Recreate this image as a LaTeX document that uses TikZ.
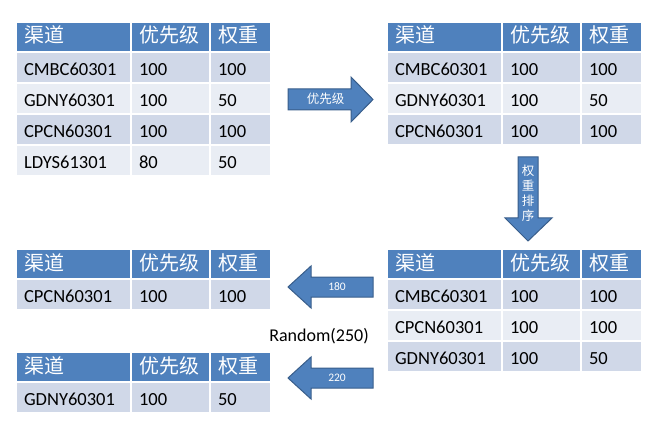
\documentclass[tikz,border=0pt]{standalone}
\usepackage{fontspec}
\setmainfont{Carlito}
\newfontfamily\cjk{Noto Sans CJK SC}
\definecolor{hdrblue}{HTML}{4F81BD}
\definecolor{rowdark}{HTML}{D0D8E8}
\definecolor{rowlight}{HTML}{E9EDF4}
\definecolor{arrowedge}{HTML}{385D8A}
% one table row: three cells placed side by side
% #1 name prefix, #2 cell style, #3 top-left corner, #4-#6 cell texts
\newcommand{\tabrow}[6]{%
  \node[#2, text width=99pt] (#1a) at #3 {#4};
  \node[#2, text width=63pt] (#1b) at (#1a.north east) {#5};
  \node[#2, text width=45pt] (#1c) at (#1b.north east) {#6};
}
\begin{document}
\begin{tikzpicture}[x=1pt,y=-1pt,
  cellbase/.style={rectangle, draw=white, line width=1.5pt, outer sep=0pt,
    inner xsep=8pt, inner ysep=0pt, align=left, anchor=north west},
  hdr/.style={cellbase, fill=hdrblue, text=white,
    font=\cjk\fontsize{20}{22}\selectfont,
    minimum height=30pt, text height=15pt, text depth=3pt},
  rowA/.style={cellbase, fill=rowdark, text=black,
    font=\fontsize{18.5}{20}\selectfont,
    minimum height=31pt, text height=16pt, text depth=0pt},
  rowB/.style={rowA, fill=rowlight},
  blockarrow/.style={fill=hdrblue, draw=arrowedge, line width=1pt, line join=miter},
  arrowtext/.style={text=white, inner sep=0pt},
]
\useasboundingbox (0,0) rectangle (671,430);

% source table
\tabrow{t1h}{hdr}{(16,22)}{渠道}{优先级}{权重}
\tabrow{t1r1}{rowA}{(t1ha.south west)}{CMBC60301}{100}{100}
\tabrow{t1r2}{rowB}{(t1r1a.south west)}{GDNY60301}{100}{50}
\tabrow{t1r3}{rowA}{(t1r2a.south west)}{CPCN60301}{100}{100}
\tabrow{t1r4}{rowB}{(t1r3a.south west)}{LDYS61301}{80}{50}

% after priority filter
\tabrow{t2h}{hdr}{(387,22)}{渠道}{优先级}{权重}
\tabrow{t2r1}{rowA}{(t2ha.south west)}{CMBC60301}{100}{100}
\tabrow{t2r2}{rowB}{(t2r1a.south west)}{GDNY60301}{100}{50}
\tabrow{t2r3}{rowA}{(t2r2a.south west)}{CPCN60301}{100}{100}

% after weight sort
\tabrow{t3h}{hdr}{(387,249)}{渠道}{优先级}{权重}
\tabrow{t3r1}{rowA}{(t3ha.south west)}{CMBC60301}{100}{100}
\tabrow{t3r2}{rowB}{(t3r1a.south west)}{CPCN60301}{100}{100}
\tabrow{t3r3}{rowA}{(t3r2a.south west)}{GDNY60301}{100}{50}

% picked results
\tabrow{t4h}{hdr}{(16,249)}{渠道}{优先级}{权重}
\tabrow{t4r1}{rowA}{(t4ha.south west)}{CPCN60301}{100}{100}

\tabrow{t5h}{hdr}{(16,352)}{渠道}{优先级}{权重}
\tabrow{t5r1}{rowA}{(t5ha.south west)}{GDNY60301}{100}{50}

% block arrows
\draw[blockarrow] (288,89) -- (351,89) -- (351,77) -- (373,99.5) -- (351,122)
  -- (351,110) -- (288,110) -- cycle;
\node[arrowtext, font=\cjk\fontsize{12.5}{13}\selectfont] (lblprio) at (325.5,98.5) {优先级};

\draw[blockarrow] (518,157) -- (538,157) -- (538,218) -- (552,218) -- (528,241)
  -- (505,218) -- (518,218) -- cycle;
\node[arrowtext, align=center, font=\cjk\fontsize{12.5}{15}\selectfont] (lblsort) at (528,193.5)
  {权\\重\\排\\序};

\draw[blockarrow] (373,277) -- (311,277) -- (311,266) -- (288,287) -- (311,308)
  -- (311,297) -- (373,297) -- cycle;
\node[arrowtext, font=\fontsize{11.5}{12}\selectfont] (lbla) at (337,287) {180};

\draw[blockarrow] (373,368) -- (311,368) -- (311,357) -- (288,378) -- (311,399)
  -- (311,388) -- (373,388) -- cycle;
\node[arrowtext, font=\fontsize{11.5}{12}\selectfont] (lblb) at (337,378) {220};

\node[anchor=base, inner sep=0pt, font=\fontsize{18}{20}\selectfont] (rnd) at (319,341) {Random(250)};
\end{tikzpicture}
\end{document}
